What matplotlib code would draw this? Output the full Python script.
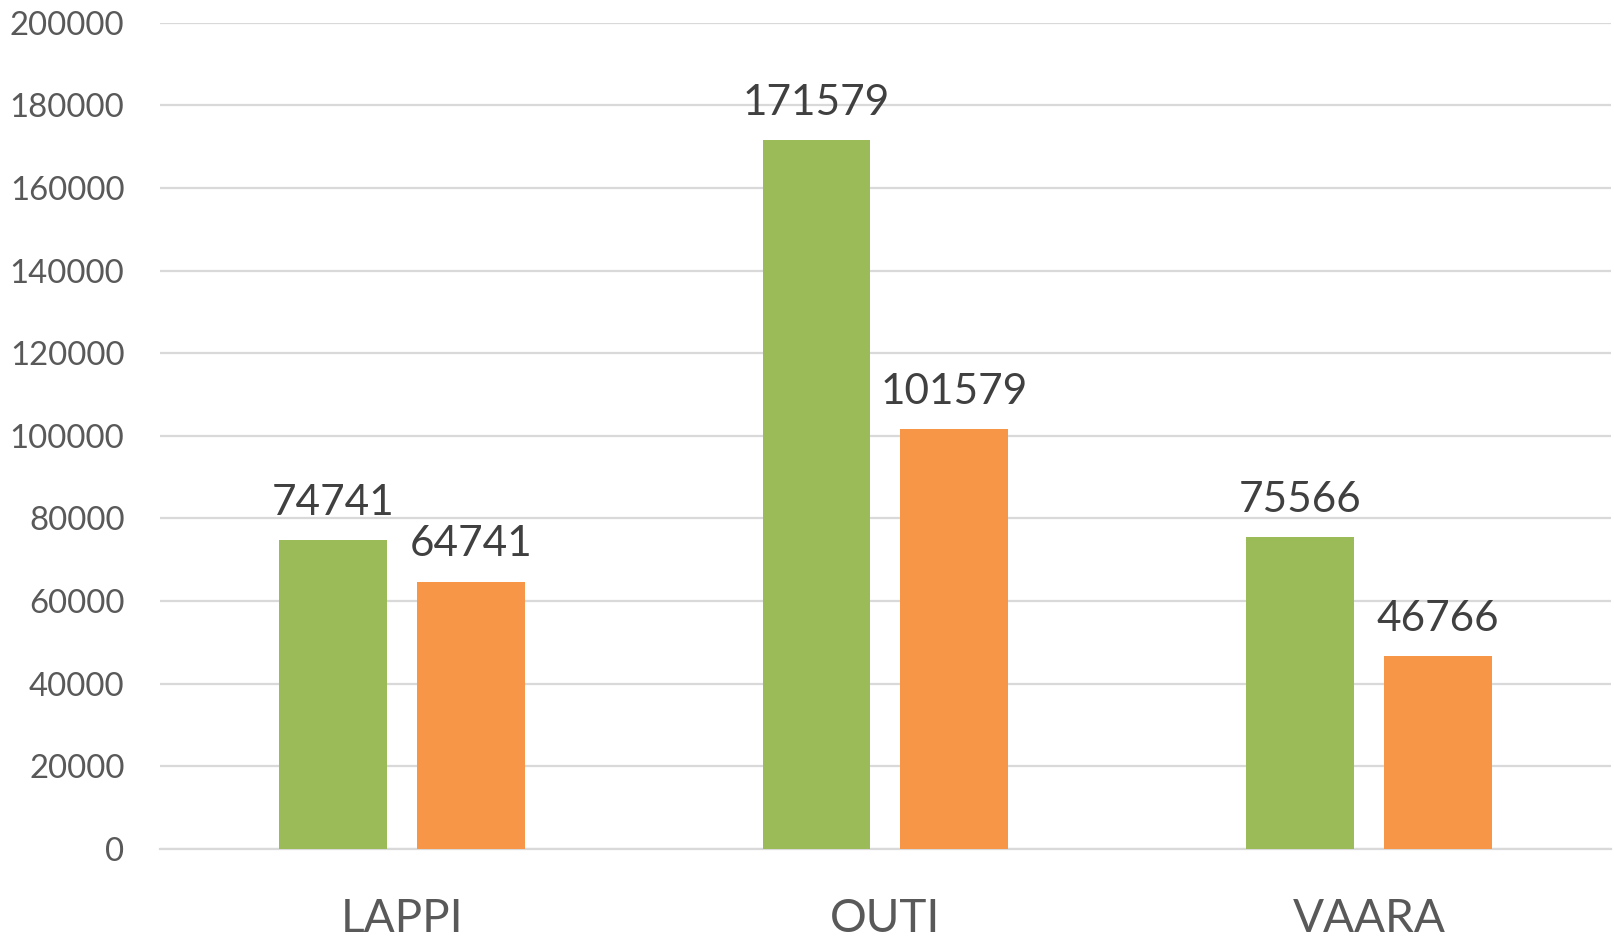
import matplotlib.pyplot as plt
import numpy as np

# values
categories = ["LAPPI", "OUTI", "VAARA"]
series_a = [74741, 171579, 75566]
series_b = [64741, 101579, 46766]
yticks = [0, 20000, 40000, 60000, 80000, 100000, 120000, 140000, 160000, 180000, 200000]

green = "#9BBB59"
orange = "#F79646"

plt.rcParams["font.family"] = ["Lato", "DejaVu Sans"]

fig = plt.figure(figsize=(16.14, 9.41), dpi=100)
ax = fig.add_axes([0.0991, 0.0978, 0.899, 0.878])

x = np.arange(len(categories))
w = 0.223
off = 0.1425

bars_a = ax.bar(x - off, series_a, width=w, color=green, zorder=3)
bars_b = ax.bar(x + off, series_b, width=w, color=orange, zorder=3)

# data labels above bars
for bars in (bars_a, bars_b):
    for b in bars:
        ax.annotate(str(int(b.get_height())),
                    (b.get_x() + b.get_width() / 2, b.get_height()),
                    xytext=(0, 13), textcoords="offset points",
                    ha="center", va="bottom", fontsize=30.5, color="#404040")

ax.set_xlim(-0.5, 2.5)
ax.set_ylim(0, 200000)
ax.set_yticks(yticks)
ax.set_yticklabels([str(v) for v in yticks])
ax.set_xticks(x)
ax.set_xticklabels(categories)

ax.yaxis.grid(True, color="#d9d9d9", linewidth=1.6, zorder=0)
ax.set_axisbelow(True)
for s in ["top", "right", "left"]:
    ax.spines[s].set_visible(False)
ax.spines["bottom"].set_color("#d9d9d9")
ax.spines["bottom"].set_linewidth(1.6)

ax.tick_params(axis="y", length=0, pad=25.5, labelsize=23.7, labelcolor="#595959")
ax.tick_params(axis="x", length=0, pad=35, labelsize=33, labelcolor="#595959")

plt.savefig("out.png", dpi=100)
